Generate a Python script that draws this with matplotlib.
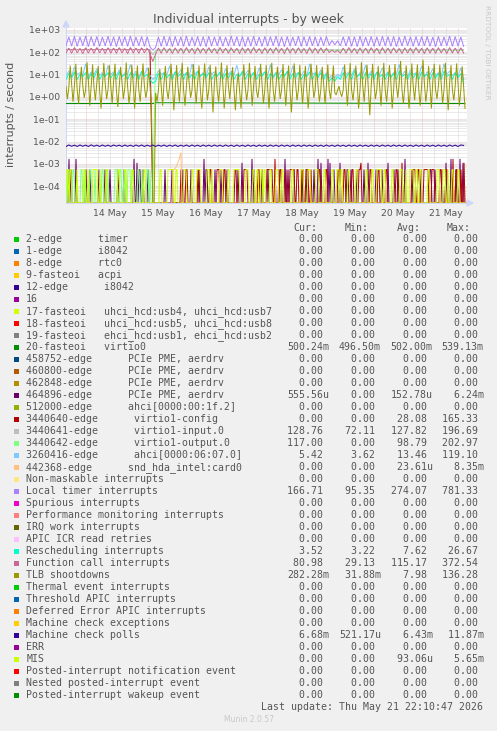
import numpy as np
import matplotlib
matplotlib.use("Agg")
import matplotlib.pyplot as plt
from matplotlib.patches import Rectangle, Polygon
from matplotlib.ticker import FixedLocator, NullFormatter

W, H = 497, 731

# ------------------------------------------------------------------ data
title = "Individual interrupts - by week"
ylabel = "interrupts / second"
day_labels = ["14 May", "15 May", "16 May", "17 May", "18 May", "19 May", "20 May", "21 May"]
# time axis: hours since 13 May 14:00 (left edge); midnight 14 May at 10 h
first_midnight_h = 10.0
span_h = 200.5
reboot_idx = 31

# regular samples (hours) for the busy series
t_main = np.arange(143) * 1.4
t_tlb = np.arange(286) * 0.7
# half-hour samples for the sparse series
t_half = np.arange(401) * 0.5

local_timer = [
    190, 470, 185, 510, 180, 480, 190, 520, 175, 490,
    185, 500, 180, 470, 190, 510, 185, 480, 175, 500,
    190, 490, 180, 520, 185, 470, 190, 500, 180, 480,
    170, 120, 160, 470, 180, 510, 185, 490, 175, 500,
    190, 480, 180, 520, 185, 470, 190, 500, 180, 490,
    175, 510, 185, 480, 190, 500, 180, 470, 185, 520,
    190, 490, 180, 500, 175, 480, 185, 510, 190, 470,
    180, 500, 185, 490, 190, 520, 180, 480, 175, 500,
    185, 470, 190, 510, 180, 490, 185, 500, 190, 480,
    180, 470, 190, 500, 200, 330, 210, 320, 190, 480,
    185, 500, 180, 490, 175, 520, 185, 470, 190, 500,
    180, 480, 185, 510, 190, 490, 180, 500, 175, 470,
    185, 520, 190, 480, 180, 500, 185, 490, 190, 510,
    180, 470, 175, 500, 185, 480, 190, 520, 180, 490,
    185, 470, 180]

function_call = [
    90, 150, 88, 160, 92, 145, 85, 155, 90, 150,
    88, 160, 92, 148, 86, 155, 90, 150, 88, 158,
    92, 145, 85, 160, 90, 150, 88, 155, 92, 148,
    85, 38, 80, 150, 88, 158, 92, 145, 86, 155,
    90, 150, 88, 160, 92, 148, 85, 155, 90, 150,
    88, 158, 92, 145, 86, 160, 90, 150, 88, 155,
    92, 148, 85, 155, 90, 150, 88, 160, 92, 145,
    86, 155, 90, 150, 88, 158, 92, 148, 85, 160,
    90, 150, 88, 155, 92, 145, 86, 160, 90, 150,
    88, 155, 92, 148, 95, 120, 98, 118, 90, 150,
    88, 160, 92, 145, 86, 155, 90, 150, 88, 158,
    92, 148, 85, 160, 90, 150, 88, 155, 92, 145,
    86, 155, 90, 150, 88, 160, 92, 148, 85, 155,
    90, 150, 88, 158, 92, 145, 86, 160, 90, 150,
    88, 155, 90]

virtio1_input = [
    124, 136, 122, 138, 125, 134, 121, 137, 124, 135,
    123, 138, 125, 133, 122, 136, 124, 137, 121, 135,
    125, 134, 122, 138, 124, 136, 123, 135, 125, 137,
    122, 75, 120, 136, 124, 137, 122, 135, 125, 134,
    123, 138, 121, 136, 124, 135, 122, 137, 125, 133,
    124, 136, 122, 138, 123, 134, 125, 137, 121, 135,
    124, 136, 122, 138, 125, 134, 123, 137, 124, 135,
    122, 138, 125, 133, 124, 136, 121, 137, 123, 135,
    125, 134, 122, 138, 124, 136, 123, 135, 125, 137,
    122, 136, 124, 134, 126, 130, 125, 131, 123, 137,
    124, 135, 122, 138, 125, 134, 121, 137, 124, 136,
    123, 138, 125, 133, 122, 136, 124, 137, 121, 135,
    125, 134, 122, 138, 124, 136, 123, 135, 125, 137,
    122, 136, 124, 134, 123, 138, 125, 135, 122, 137,
    124, 136, 129]

virtio1_config_before = [
    128, 134, 127, 135, 129, 133, 126, 136, 128, 134,
    127, 135, 129, 133, 126, 136, 128, 134, 127, 135,
    129, 133, 126, 136, 128, 134, 127, 135, 129, 133,
    125, 0]

virtio1_output_after = [
    0, 115, 124, 110, 126, 112, 122, 109, 125, 113, 121,
    111, 124, 110, 127, 112, 120, 109, 125, 114, 122,
    110, 126, 112, 123, 109, 124, 113, 121, 111, 125,
    110, 127, 112, 122, 109, 124, 114, 121, 110, 126,
    112, 123, 109, 125, 113, 121, 111, 124, 110, 126,
    112, 122, 109, 125, 114, 121, 110, 127, 112, 123,
    109, 124, 113, 121, 111, 125, 110, 126, 112, 122,
    109, 125, 114, 121, 110, 126, 112, 123, 109, 124,
    113, 121, 111, 125, 110, 127, 112, 122, 109, 124,
    114, 121, 110, 126, 112, 123, 109, 125, 113, 121,
    111, 124, 110, 126, 112, 122, 109, 125, 114, 121,
    117]

ahci_0607 = [
    9, 14, 8, 22, 10, 12, 9, 30, 8, 13,
    10, 18, 9, 12, 8, 25, 10, 13, 9, 16,
    8, 12, 10, 28, 9, 14, 8, 12, 10, 20,
    9, 6, 8, 15, 10, 12, 9, 24, 8, 13,
    10, 16, 9, 12, 8, 30, 10, 14, 9, 12,
    8, 22, 10, 13, 9, 12, 8, 18, 10, 14,
    9, 26, 8, 12, 10, 15, 9, 12, 8, 20,
    10, 13, 9, 28, 8, 12, 10, 16, 9, 13,
    8, 24, 10, 12, 9, 14, 8, 30, 10, 12,
    9, 16, 8, 12, 7, 9, 7, 10, 8, 22,
    10, 13, 9, 18, 8, 12, 10, 26, 9, 14,
    8, 12, 10, 20, 9, 13, 8, 12, 10, 28,
    9, 14, 8, 16, 10, 12, 9, 24, 8, 13,
    10, 18, 9, 12, 8, 30, 10, 14, 9, 12,
    8, 20, 6]

rescheduling = [
    6, 11, 7, 13, 6, 10, 8, 12, 6, 11,
    7, 14, 6, 10, 8, 12, 7, 11, 6, 13,
    8, 10, 6, 12, 7, 11, 6, 14, 8, 10,
    6, 4, 5, 11, 6, 12, 7, 10, 6, 13,
    8, 11, 6, 12, 7, 10, 6, 14, 8, 11,
    7, 12, 6, 10, 8, 13, 6, 11, 7, 12,
    6, 10, 8, 14, 6, 11, 7, 12, 6, 10,
    8, 13, 6, 11, 7, 12, 6, 10, 8, 14,
    6, 11, 7, 12, 6, 10, 8, 13, 6, 11,
    7, 12, 6, 10, 5, 7, 5, 8, 6, 12,
    7, 11, 6, 14, 8, 10, 6, 12, 7, 11,
    6, 13, 8, 10, 6, 12, 7, 11, 6, 14,
    8, 10, 6, 12, 7, 11, 6, 13, 8, 10,
    6, 12, 7, 11, 6, 14, 8, 10, 6, 12,
    7, 11, 4]

tlb_shootdowns = [
    3, 0.8, 2.5, 25, 4, 0.6, 3, 30, 2, 0.5, 4, 22,
    3, 0.9, 2, 35, 5, 0.4, 3, 28, 2.5, 0.7, 4, 24,
    2, 0.3, 3, 32, 4, 0.8, 2, 26, 3, 0.5, 5, 30,
    2, 0.35, 3, 22, 4, 0.8, 2.5, 34, 3, 0.5, 2, 27,
    4, 0.3, 3, 25, 2, 0.6, 4, 31, 3, 0.9, 2, 20,
    3, 0.5, 0, 0, 1.5, 0.6, 2, 18, 3, 0.4, 4, 24,
    2, 0.8, 3, 30, 4, 0.25, 2, 26, 3, 0.6, 5, 33,
    2, 0.4, 3, 22, 4, 0.9, 2, 29, 3, 0.5, 4, 25,
    2, 0.3, 3, 31, 5, 0.7, 2, 27, 3, 0.2, 4, 23,
    2, 0.6, 3, 34, 4, 0.3, 2, 26, 3, 0.8, 5, 21,
    2, 0.25, 3, 12, 2, 0.3, 4, 28, 3, 0.7, 2, 32,
    4, 0.4, 3, 24, 2, 0.9, 3, 30, 4, 0.5, 2, 26,
    3, 0.3, 4, 33, 2, 0.6, 3, 22, 5, 0.8, 2, 29,
    3, 0.4, 4, 25, 2, 0.2, 3, 31, 4, 0.7, 2, 27,
    3, 0.5, 4, 24, 2, 0.3, 3, 30, 5, 0.9, 2, 26,
    3, 0.6, 2, 22, 4, 0.5, 3, 28, 2, 0.8, 4, 25,
    1.5, 1.2, 2, 3, 1.5, 1, 2, 28, 3, 0.4, 4, 32,
    2, 0.7, 3, 25, 4, 0.3, 2, 35, 3, 0.6, 5, 27,
    2, 0.15, 3, 30, 4, 0.8, 2, 24, 3, 0.4, 4, 33,
    2, 0.6, 3, 26, 5, 0.3, 2, 29, 3, 0.9, 4, 40,
    2, 0.5, 3, 25, 4, 0.3, 2, 31, 3, 0.7, 4, 28,
    2, 0.4, 3, 45, 4, 0.6, 2, 24, 3, 0.3, 5, 30,
    2, 0.8, 3, 27, 4, 0.5, 2, 33, 3, 0.25, 4, 26,
    2, 0.7, 3, 31, 4, 0.4, 2, 23, 3, 0.3]

virtio0_t = [0.0, 43.4, 44.8, 199.5]
virtio0 = [0.50, 0.50, 0.54, 0.50]

mc_polls_milli = [
    6.0, 7.0, 6.1, 6.9, 6.0, 7.0, 6.1, 6.9, 6.0, 7.1,
    6.1, 6.9, 6.0, 7.0, 6.1, 6.9, 6.0, 7.0, 6.2, 6.9,
    6.0, 7.0, 6.1, 6.9, 6.0, 7.0, 6.1, 7.0, 6.0, 6.9,
    6.1, 7.0, 6.0, 6.9, 6.1, 7.0, 6.0, 6.9, 6.1, 7.0,
    6.0, 6.9, 6.1, 7.0, 6.0, 7.0, 6.1, 6.9, 6.0, 7.0,
    6.1, 6.9, 6.0, 7.0, 6.1, 6.9, 6.0, 7.0, 6.1, 6.9,
    6.0, 7.0, 6.1, 6.9, 6.0, 7.0, 6.1, 6.9, 6.0, 7.0,
    6.1, 6.9, 6.0, 7.0, 6.1, 6.9, 6.0, 7.0, 6.1, 6.9,
    6.0, 7.0, 6.1, 6.9, 6.0, 7.0, 6.1, 6.9, 6.0, 7.0,
    6.1, 6.9, 6.0, 7.0, 6.1, 6.9, 6.0, 7.0, 6.1, 6.9,
    6.0, 7.0, 6.1, 6.9, 6.0, 7.0, 6.1, 6.9, 6.0, 7.0,
    6.1, 6.9, 6.0, 7.0, 6.1, 6.9, 6.0, 7.0, 6.1, 6.9,
    6.0, 7.0, 6.1, 6.9, 6.0, 7.0, 6.1, 6.9, 6.0, 7.0,
    6.1, 6.9, 6.0, 7.0, 6.1, 6.9, 6.0, 7.0, 6.1, 6.9,
    6.0, 7.0, 6.7]

# sparse pulses: (start hour, number of half-hour samples, interrupts per 30 min)
pcie_464896_pulses = [
    (1.5, 1, 3), (2.5, 1, 1), (5, 1, 3), (10, 1, 1), (12, 1, 1), (16.5, 1, 1),
    (19.5, 1, 1), (22, 1, 1), (26, 1, 1), (29, 1, 1), (34, 1, 3), (35.5, 1, 2),
    (36.5, 2, 1), (38.5, 1, 1), (41, 1, 1), (49.5, 1, 1), (53, 1, 1), (58.5, 1, 1),
    (62.5, 1, 1), (66.5, 1, 1), (69, 1, 3), (70, 2, 1), (74.5, 1, 1), (77.5, 1, 1),
    (80.5, 1, 1), (86, 1, 1), (88, 1, 2), (93, 1, 3), (94, 1, 1), (98, 1, 1),
    (101, 1, 1), (106.5, 1, 1), (109.5, 1, 3), (111, 1, 1), (114, 1, 1), (118, 1, 1),
    (120.5, 1, 1), (124, 1, 1), (126, 1, 3), (127.5, 1, 2), (131, 1, 3), (132, 1, 2),
    (134, 1, 1), (137, 1, 2), (140.5, 2, 1), (142.5, 1, 1), (145.5, 1, 1), (149, 1, 1),
    (151, 1, 2), (155, 1, 1), (158, 1, 1), (161, 1, 2), (164, 1, 1), (166, 1, 1),
    (169.5, 1, 3), (173.5, 1, 1), (177.5, 1, 1), (182, 2, 1), (184.5, 1, 1), (188, 1, 1),
    (190, 1, 2), (192.5, 1, 3), (195, 1, 1), (197, 1, 3), (198.5, 1, 2)]
mis_pulses = [
    (0.5, 2, 1), (2, 2, 1), (5.5, 1, 1), (9, 2, 1), (11, 1, 1), (13.5, 5, 1), (17, 1, 1),
    (20, 2, 1), (26, 2, 1), (29.5, 2, 1), (33, 2, 1), (39, 2, 1), (47, 2, 1), (51, 6, 1),
    (55, 2, 1), (59, 3, 1), (63, 2, 1), (65.5, 4, 1), (70.5, 3, 1), (73, 1, 1), (77, 3, 1),
    (81, 2, 1), (84, 6, 1), (90, 3, 1), (93.5, 2, 1), (95.5, 2, 1), (97.5, 2, 1),
    (99, 2, 1), (102, 2, 1), (105, 3, 1), (108, 2, 1), (113, 2, 1), (117.5, 3, 1),
    (121, 3, 1), (125, 3, 1), (129, 2, 1), (133, 2, 1), (135.5, 3, 1), (137.5, 2, 1),
    (141, 2, 1), (145, 2, 1), (150, 2, 1), (153, 2, 1), (155.5, 5, 1), (159, 2, 1),
    (163, 2, 1), (167, 3, 1), (170, 1, 1), (172, 4, 1), (175, 2, 1), (177, 2, 1),
    (181, 2, 1), (185.5, 3, 1), (188.5, 3, 1), (191, 1, 1), (193, 2, 1), (196, 2, 1)]
virtio1_config_pulses = [
    (57.5, 1, 1), (60, 2, 1), (66, 2, 1), (72, 2, 1), (75.5, 3, 1), (79, 2, 1),
    (84.5, 2, 1), (89, 4, 1), (96, 2, 1), (100.5, 6, 1), (104.5, 1, 3), (107, 2, 1),
    (110, 1, 1), (112, 5, 1), (115.5, 2, 1), (118, 2, 1), (120, 3, 1), (122.5, 1, 1),
    (126.5, 2, 1), (130, 2, 1), (136, 2, 1), (139, 2, 1), (143, 2, 1), (146.5, 3, 1),
    (147.5, 1, 2), (152, 2, 1), (156, 2, 1), (160, 2, 1), (165, 2, 1), (168, 1, 2),
    (173, 4, 1), (176, 2, 1), (179, 5, 1), (183, 3, 1), (187, 2, 1), (190, 2, 1),
    (193.5, 1, 3), (195, 2, 1), (197.5, 1, 1), (199, 1, 2)]
virtio1_output_pulses = [
    (1, 2, 1), (3.5, 2, 1), (7.5, 2, 1), (9.5, 1, 1), (12, 2, 1), (14.5, 1, 1),
    (18, 2, 1), (20.5, 2, 1), (24.5, 3, 1), (27, 2, 1), (29, 2, 1), (31, 3, 1),
    (33, 2, 1), (36, 2, 1), (38, 1, 1), (40.5, 2, 1), (42, 1, 1)]
snd_hda_pulses = [
    (53.5, 1, 1), (54, 1, 1), (54.5, 1, 1.1), (55, 1, 1.3), (55.5, 1, 1.6),
    (56, 1, 2.1), (56.5, 1, 2.8), (57, 1, 4.0), (57.5, 1, 5.8)]

# legend table
legend_labels = [
    "2-edge      timer", "1-edge      i8042", "8-edge      rtc0", "9-fasteoi   acpi",
    "12-edge      i8042", "16",
    "17-fasteoi   uhci_hcd:usb4, uhci_hcd:usb7",
    "18-fasteoi   uhci_hcd:usb5, uhci_hcd:usb8",
    "19-fasteoi   ehci_hcd:usb1, ehci_hcd:usb2",
    "20-fasteoi   virtio0",
    "458752-edge      PCIe PME, aerdrv", "460800-edge      PCIe PME, aerdrv",
    "462848-edge      PCIe PME, aerdrv", "464896-edge      PCIe PME, aerdrv",
    "512000-edge      ahci[0000:00:1f.2]",
    "3440640-edge      virtio1-config", "3440641-edge      virtio1-input.0",
    "3440642-edge      virtio1-output.0", "3260416-edge      ahci[0000:06:07.0]",
    "442368-edge      snd_hda_intel:card0",
    "Non-maskable interrupts", "Local timer interrupts", "Spurious interrupts",
    "Performance monitoring interrupts", "IRQ work interrupts", "APIC ICR read retries",
    "Rescheduling interrupts", "Function call interrupts", "TLB shootdowns",
    "Thermal event interrupts", "Threshold APIC interrupts",
    "Deferred Error APIC interrupts", "Machine check exceptions", "Machine check polls",
    "ERR", "MIS", "Posted-interrupt notification event", "Nested posted-interrupt event",
    "Posted-interrupt wakeup event"]
legend_colors = [
    "#00CC00", "#0066B3", "#FF8000", "#FFCC00", "#330099", "#990099", "#CCFF00",
    "#FF0000", "#808080", "#008F00", "#00487D", "#B35A00", "#B38F00", "#6B006B",
    "#8FB300", "#B30000", "#BEBEBE", "#80FF80", "#80C9FF", "#FFC080", "#FFE680",
    "#AA80FF", "#EE00CC", "#FF8080", "#666600", "#FFBFFF", "#00FFCC", "#CC6699",
    "#999900", "#00CC00", "#0066B3", "#FF8000", "#FFCC00", "#330099", "#990099",
    "#CCFF00", "#FF0000", "#808080", "#008F00"]
cur_vals = [0, 0, 0, 0, 0, 0, 0, 0, 0, 0.50024, 0, 0, 0, 555.56e-6, 0, 0, 128.76, 117.00,
            5.42, 0, 0, 166.71, 0, 0, 0, 0, 3.52, 80.98, 282.28e-3, 0, 0, 0, 0, 6.68e-3,
            0, 0, 0, 0, 0]
min_vals = [0, 0, 0, 0, 0, 0, 0, 0, 0, 0.49650, 0, 0, 0, 0, 0, 0, 72.11, 0,
            3.62, 0, 0, 95.35, 0, 0, 0, 0, 3.22, 29.13, 31.88e-3, 0, 0, 0, 0, 521.17e-6,
            0, 0, 0, 0, 0]
avg_vals = [0, 0, 0, 0, 0, 0, 0, 0, 0, 0.50200, 0, 0, 0, 152.78e-6, 0, 28.08, 127.82, 98.79,
            13.46, 23.61e-6, 0, 274.07, 0, 0, 0, 0, 7.62, 115.17, 7.98, 0, 0, 0, 0, 6.43e-3,
            0, 93.06e-6, 0, 0, 0]
max_vals = [0, 0, 0, 0, 0, 0, 0, 0, 0, 0.53913, 0, 0, 0, 6.24e-3, 0, 165.33, 196.69, 202.97,
            119.10, 8.35e-3, 0, 781.33, 0, 0, 0, 0, 26.67, 372.54, 136.28, 0, 0, 0, 0, 11.87e-3,
            0, 5.65e-3, 0, 0, 0]
last_update = "Last update: Thu May 21 22:10:47 2026"
footer = "Munin 2.0.57"
watermark = "RRDTOOL / TOBI OETIKER"

# ------------------------------------------------------------------ helpers
YLO, YHI = 1.78e-5, 1190.0


def pulses_to_series(events):
    arr = np.zeros(len(t_half))
    for h, n, lvl in events:
        i = int(round(h / 0.5))
        arr[i:i + n] = lvl / 1800.0
    return arr


def fmt(v):
    if v == 0:
        return "%6.2f " % 0
    a = abs(v)
    if a >= 1:
        return "%6.2f " % v
    if a >= 1e-3:
        return "%6.2fm" % (v * 1e3)
    return "%6.2fu" % (v * 1e6)


def px(x, y):
    return x / W, 1 - y / H


# ------------------------------------------------------------------ series per legend row
t_main_arr = np.asarray(t_main)
t_reboot = t_main_arr[reboot_idx]
series = {}
series[9] = [(virtio0_t, virtio0)]
series[13] = [(t_half, pulses_to_series(pcie_464896_pulses))]
cfg_p = pulses_to_series(virtio1_config_pulses)
series[15] = [(np.concatenate([t_main_arr[:reboot_idx + 1], t_half[t_half > t_reboot]]),
               np.concatenate([virtio1_config_before, cfg_p[t_half > t_reboot]]))]
series[16] = [(t_main_arr, virtio1_input)]
out_p = pulses_to_series(virtio1_output_pulses)
series[17] = [(np.concatenate([t_half[t_half < t_reboot], t_main_arr[reboot_idx:]]),
               np.concatenate([out_p[t_half < t_reboot], virtio1_output_after]))]
series[18] = [(t_main_arr, ahci_0607)]
series[19] = [(t_half, pulses_to_series(snd_hda_pulses))]
series[21] = [(t_main_arr, local_timer)]
series[26] = [(t_main_arr, rescheduling)]
series[27] = [(t_main_arr, function_call)]
series[28] = [(t_tlb, tlb_shootdowns)]
series[33] = [(t_main_arr, np.asarray(mc_polls_milli) * 1e-3)]
series[35] = [(t_half, pulses_to_series(mis_pulses))]

# ------------------------------------------------------------------ figure
BG = "#F0F0F0"
FONT = "#555555"
AXISC = "#CFD6F8"
MGRID = "#E2C6C6"
GRID = "#D6D6D6"

fig = plt.figure(figsize=(W / 100, H / 100), dpi=100, facecolor=BG)
l, b = px(66, 203)
ax = fig.add_axes([l, b, 401 / W, 175 / H], facecolor="white")
ax.set_yscale("log")
ax.set_xlim(0, span_h)
ax.set_ylim(YLO, YHI)

lw = 0.72
# grid
dec = [10.0 ** k for k in range(-4, 4)]
minors = [m * 10.0 ** k for k in range(-5, 4) for m in range(2, 10)]
minors = [v for v in minors if YLO < v < YHI]
for v in minors:
    ax.axhline(v, color=GRID, lw=lw, ls=(0, (1, 1)), zorder=0.5)
for h6 in np.arange(first_midnight_h - 6, span_h, 6):
    if (h6 - first_midnight_h) % 24 != 0:
        ax.axvline(h6, color=GRID, lw=lw, ls=(0, (1, 1)), zorder=0.5)
for v in dec:
    ax.axhline(v, color=MGRID, lw=lw, ls=(0, (1, 1)), zorder=0.6)
for hm in np.arange(first_midnight_h, span_h, 24):
    ax.axvline(hm, color=MGRID, lw=lw, ls=(0, (1, 1)), zorder=0.6)

# data lines, drawn in legend order
for i, col in enumerate(legend_colors):
    if i in series:
        for tt, vv in series[i]:
            vv = np.maximum(np.asarray(vv, dtype=float), YLO)
            ax.plot(tt, vv, color=col, lw=lw, zorder=2, solid_joinstyle="miter")
    else:
        ax.plot([0, 199.5], [YLO, YLO], color=col, lw=lw, zorder=2)

# ticks
ax.yaxis.set_major_locator(FixedLocator(dec))
ax.set_yticklabels(["1e%s%02d" % ("+" if k >= 0 else "-", abs(k)) for k in range(-4, 4)])
ax.yaxis.set_minor_locator(FixedLocator(minors))
ax.yaxis.set_minor_formatter(NullFormatter())
ax.set_xticks([first_midnight_h + 12 + 24 * k for k in range(len(day_labels))])
ax.set_xticklabels(day_labels)
ax.tick_params(axis="both", which="both", length=0, labelsize=6.7, labelcolor=FONT)
ax.tick_params(axis="y", pad=4.5)
ax.tick_params(axis="x", pad=4.0)

for s in ["top", "right"]:
    ax.spines[s].set_visible(False)
for s in ["left", "bottom"]:
    ax.spines[s].set_color(AXISC)
    ax.spines[s].set_linewidth(lw)
    ax.spines[s].set_zorder(1)

# axis arrows
fig.patches.append(Polygon([px(63, 27), px(69, 27), px(66, 21)], closed=True,
                           transform=fig.transFigure, color=AXISC, zorder=5))
fig.patches.append(Polygon([px(467, 200), px(467, 206), px(473, 203)], closed=True,
                           transform=fig.transFigure, color=AXISC, zorder=5))

# texts
fig.text(*px(248.5, 19), title, ha="center", va="center", fontsize=9, color=FONT)
fig.text(*px(11, 114), ylabel, ha="center", va="center", rotation=90, fontsize=8, color=FONT)
fig.text(*px(487, 52), watermark, ha="center", va="center", rotation=270, fontsize=5.3,
         color="#C8C8C8")

mono = "DejaVu Sans Mono"
LFS = 7.1
col_x = [287.3, 339.0, 390.7, 441.7]
for hx, lab in zip([293.3, 345.0, 396.7, 446.7], ["Cur:", "Min:", "Avg:", "Max:"]):
    fig.text(*px(hx, 228.3), lab, ha="left", va="center", family=mono, fontsize=LFS, color=FONT)
row0, dy = 239.3, 12.0
for i, lab in enumerate(legend_labels):
    y = row0 + dy * i
    fig.patches.append(Rectangle(px(14, y + 2.6), 5.2 / W, 5.2 / H, transform=fig.transFigure,
                                 facecolor=legend_colors[i], edgecolor="none"))
    fig.text(*px(26.2, y), lab, ha="left", va="center", family=mono, fontsize=LFS, color=FONT)
    for cx, vals in zip(col_x, [cur_vals, min_vals, avg_vals, max_vals]):
        fig.text(*px(cx, y), fmt(vals[i]), ha="left", va="center", family=mono,
                 fontsize=LFS, color=FONT)
fig.text(*px(483, 707.3), last_update, ha="right", va="center", family=mono, fontsize=LFS,
         color=FONT)
fig.text(*px(248.5, 719.5), footer, ha="center", va="center", fontsize=5.5, color="#C8C8C8")

fig.savefig("out.png", dpi=100, facecolor=BG)
